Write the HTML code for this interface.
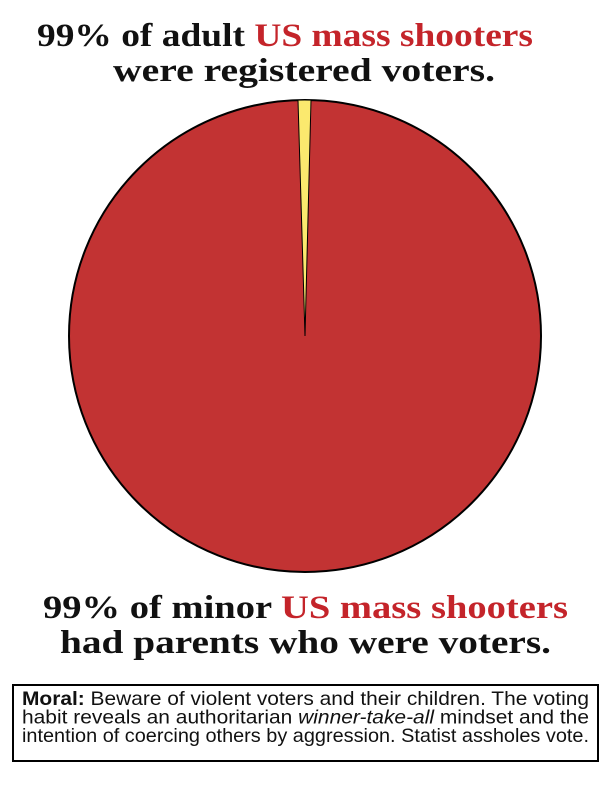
<!DOCTYPE html>
<html><head><style>
body{margin:0;width:612px;height:792px;background:#fff;overflow:hidden;position:relative}
svg{position:absolute;left:0;top:0}
</style></head><body>
<svg width="612" height="792" viewBox="0 0 612 792">
<g font-family="Liberation Serif, serif" font-weight="bold" font-size="33">
<text x="37" y="46" textLength="496" lengthAdjust="spacingAndGlyphs"><tspan fill="#111">99% of adult </tspan><tspan fill="#c4242a">US mass shooters</tspan></text>
<text x="113" y="81" textLength="382" lengthAdjust="spacingAndGlyphs" fill="#111">were registered voters.</text>
<text x="43" y="618" textLength="525" lengthAdjust="spacingAndGlyphs"><tspan fill="#111">99% of minor </tspan><tspan fill="#c4242a">US mass shooters</tspan></text>
<text x="60" y="653" textLength="491" lengthAdjust="spacingAndGlyphs" fill="#111">had parents who were voters.</text>
</g>
<circle cx="305" cy="336" r="236" fill="#c23333" stroke="#000" stroke-width="2"/>
<path d="M305 336 L298 100.1 A236 236 0 0 1 311 100.1 Z" fill="#fbe96e" stroke="#000" stroke-width="1"/>
<rect x="13" y="685" width="585" height="76" fill="none" stroke="#000" stroke-width="2"/>
<g font-family="Liberation Sans, sans-serif" font-size="19.5" fill="#111">
<text x="22" y="705" textLength="567" lengthAdjust="spacingAndGlyphs"><tspan font-weight="bold">Moral:</tspan> Beware of violent voters and their children. The voting</text>
<text x="22" y="723.5" textLength="567" lengthAdjust="spacingAndGlyphs">habit reveals an authoritarian <tspan font-style="italic">winner-take-all</tspan> mindset and the</text>
<text x="22" y="742" textLength="567" lengthAdjust="spacingAndGlyphs">intention of coercing others by aggression. Statist assholes vote.</text>
</g>
</svg>
</body></html>
